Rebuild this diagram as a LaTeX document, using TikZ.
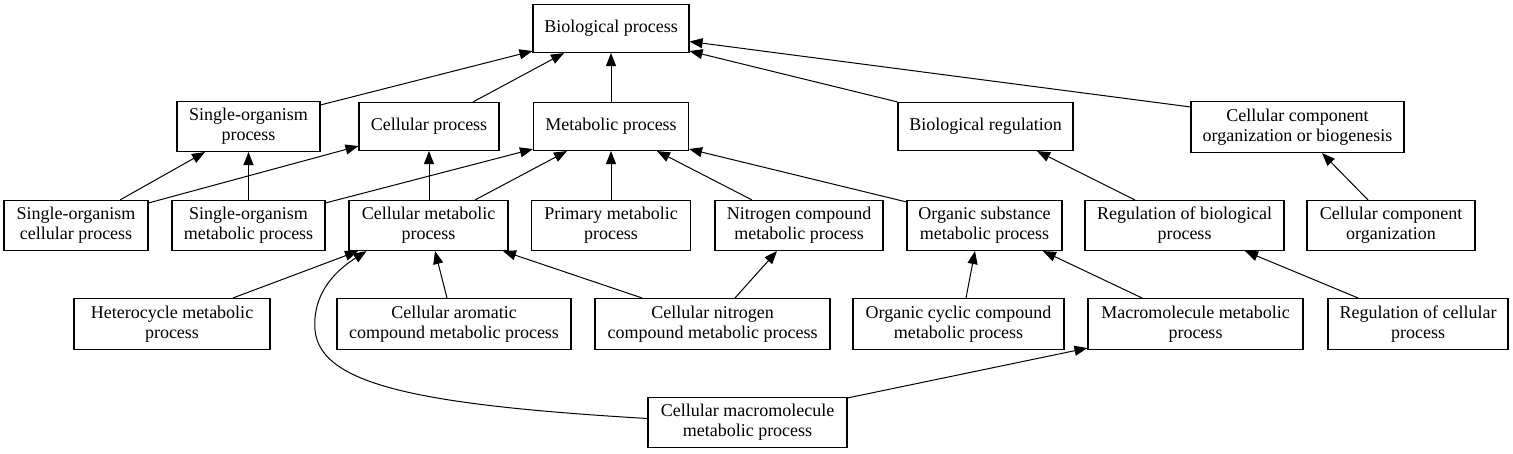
\documentclass[tikz,border=0pt]{standalone}
\usepackage{fontspec}
\setmainfont{Liberation Serif}
\usetikzlibrary{arrows.meta,calc}
\begin{document}
\begin{tikzpicture}[x=1pt,y=-1pt,
  box/.style={draw, line width=1.1pt, inner sep=0pt, align=center,
    font=\fontsize{18}{20}\selectfont},
  arr/.style={-{Triangle[length=13pt,width=10pt]}, line width=1pt}]
\useasboundingbox (0,0) rectangle (1513,453);
% row 0
\node[box, minimum width=156pt, minimum height=48pt] (bp) at (611,28.5) {Biological process};
% row 1
\node[box, minimum width=143pt, minimum height=50pt] (sop) at (248.5,126.5) {Single-organism\\process};
\node[box, minimum width=140pt, minimum height=48pt] (cp) at (429,126.5) {Cellular process};
\node[box, minimum width=155pt, minimum height=48pt] (mp) at (611,126.5) {Metabolic process};
\node[box, minimum width=175pt, minimum height=48pt] (br) at (985.5,126.5) {Biological regulation};
\node[box, minimum width=213pt, minimum height=51pt] (ccob) at (1297.5,127) {Cellular component\\organization or biogenesis};
% row 2
\node[box, minimum width=144pt, minimum height=50pt] (socp) at (76,225.5) {Single-organism\\cellular process};
\node[box, minimum width=153pt, minimum height=50pt] (somp) at (248.5,225.5) {Single-organism\\metabolic process};
\node[box, minimum width=159pt, minimum height=50pt] (cmp) at (428.5,225.5) {Cellular metabolic\\process};
\node[box, minimum width=159pt, minimum height=50pt] (pmp) at (611,225.5) {Primary metabolic\\process};
\node[box, minimum width=168pt, minimum height=50pt] (ncmp) at (799,225.5) {Nitrogen compound\\metabolic process};
\node[box, minimum width=155pt, minimum height=50pt] (osmp) at (984.5,225.5) {Organic substance\\metabolic process};
\node[box, minimum width=199pt, minimum height=50pt] (rbp) at (1184.5,225.5) {Regulation of biological\\process};
\node[box, minimum width=168pt, minimum height=50pt] (cco) at (1391,225.5) {Cellular component\\organization};
% row 3
\node[box, minimum width=196pt, minimum height=51pt] (hmp) at (172,324) {Heterocycle metabolic\\process};
\node[box, minimum width=234pt, minimum height=51pt] (cacmp) at (454,324) {Cellular aromatic\\compound metabolic process};
\node[box, minimum width=235pt, minimum height=51pt] (cncmp) at (712.5,324) {Cellular nitrogen\\compound metabolic process};
\node[box, minimum width=211pt, minimum height=51pt] (occmp) at (958.5,324) {Organic cyclic compound\\metabolic process};
\node[box, minimum width=215pt, minimum height=51pt] (mmp) at (1195.5,324) {Macromolecule metabolic\\process};
\node[box, minimum width=180pt, minimum height=51pt] (rcp) at (1418,324) {Regulation of cellular\\process};
% row 4
\node[box, minimum width=199pt, minimum height=50pt] (cmmp) at (747.5,422.5) {Cellular macromolecule\\metabolic process};
% edges to bp
\draw[arr] ($(sop.north east)+(0,4)$) -- ($(bp.south west)+(0,-2)$);
\draw[arr] ($(cp.north)+(44,0)$) -- ($(bp.south)+(-47,0)$);
\draw[arr] (mp.north) -- (bp.south);
\draw[arr] (br.north west) -- ($(bp.south east)+(0,-2)$);
\draw[arr] ($(ccob.north west)+(0,6)$) -- ($(bp.east)+(0,13)$);
% edges to row 1
\draw[arr] ($(socp.north)+(44,0)$) -- ($(sop.south)+(-43.5,0)$);
\draw[arr] ($(socp.north east)+(0,3)$) -- ($(cp.south west)+(0,-5)$);
\draw[arr] (somp.north) -- (sop.south);
\draw[arr] ($(somp.north east)+(0,3)$) -- ($(mp.south west)+(0,-2)$);
\draw[arr] ($(cmp.north)+(0.5,0)$) -- (cp.south);
\draw[arr] ($(cmp.north)+(46.5,0)$) -- ($(mp.south)+(-44,0)$);
\draw[arr] (pmp.north) -- (mp.south);
\draw[arr] ($(ncmp.north)+(-47,0)$) -- ($(mp.south)+(46,0)$);
\draw[arr] ($(osmp.north west)+(0,2)$) -- ($(mp.south east)+(0,-2)$);
\draw[arr] ($(rbp.north)+(-49.5,0)$) -- ($(br.south)+(51.5,0)$);
\draw[arr] ($(cco.north)+(-23,0)$) -- ($(ccob.south)+(24.5,0)$);
% edges to row 2
\draw[arr] ($(hmp.north)+(61,0)$) -- ($(cmp.south)+(-70.5,0)$);
\draw[arr] ($(cacmp.north)+(-7,0)$) -- ($(cmp.south)+(6.5,0)$);
\draw[arr] ($(cncmp.north)+(-70.5,0)$) -- ($(cmp.south)+(74.5,0)$);
\draw[arr] ($(cncmp.north)+(22.5,0)$) -- ($(ncmp.south)+(-22,0)$);
\draw[arr] ($(occmp.north)+(7.5,0)$) -- ($(osmp.south)+(-9.5,0)$);
\draw[arr] ($(mmp.north)+(-53.5,0)$) -- ($(osmp.south)+(58.5,0)$);
\draw[arr] ($(rcp.north)+(-60,0)$) -- ($(rbp.south)+(60.5,0)$);
% edges from row 4
\draw[arr] ($(cmmp.north east)+(0,1)$) -- ($(mmp.south west)+(0,-2)$);
\draw[arr] ($(cmmp.west)+(0,-4)$) .. controls (420,405) and (320,385) .. (315,330)
  .. controls (312,290) and (340,268) .. ($(cmp.south)+(-62,0)$);
\end{tikzpicture}
\end{document}
